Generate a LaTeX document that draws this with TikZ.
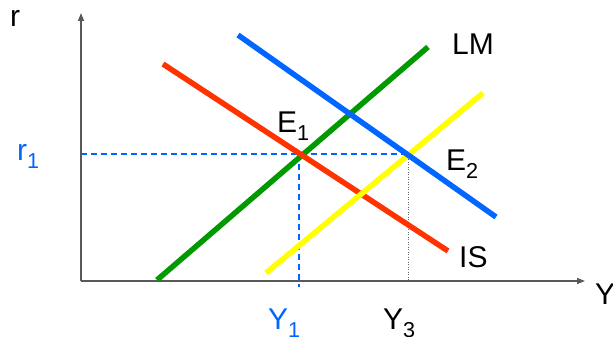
\documentclass[tikz,border=0pt]{standalone}
\usepackage{fontspec}
\setmainfont{Liberation Sans}
\usetikzlibrary{arrows.meta}
\definecolor{isred}{HTML}{FF3300}
\definecolor{lmgreen}{HTML}{009900}
\definecolor{curveblue}{HTML}{0066FF}
\definecolor{curveyellow}{HTML}{FFFF00}
\newcommand{\lowidx}[1]{\raisebox{-8pt}{\scalebox{0.72}{#1}}}
\tikzset{
  curve/.style={line width=5.5pt},
  lbl/.style={anchor=base west, inner sep=0pt, font=\fontsize{30}{36}\selectfont},
  guide/.style={curveblue, line width=1.5pt, dash pattern=on 6pt off 4pt},
}

\begin{document}
\begin{tikzpicture}[x=1pt, y=-1pt]
  \useasboundingbox (0,0) rectangle (613,337);
  % axes
  \coordinate (O) at (81,281);
  \draw[gray!70!black, line width=1.5pt, -{Triangle[length=8pt,width=6pt]}] (O) -- (81,13);
  \draw[gray!70!black, line width=1.5pt, -{Triangle[length=8pt,width=6pt]}] (O) -- (585,281);
  \node[lbl] (rlab) at (10,27) {r};
  \node[lbl] (ylab) at (595,304) {Y};
  % equilibria and guides
  \coordinate (E1) at (299,154);
  \coordinate (E2) at (408,154);
  \coordinate (Y1) at (299,287);
  \coordinate (Y3) at (408,281);
  \coordinate (R1) at (81,154);
  \draw[guide] (R1) -- (E2);
  \draw[guide] (E1) -- (Y1);
  \draw[gray!80!black, line width=0.7pt, dash pattern=on 1pt off 1.5pt] (E2) -- (Y3);
  % curves
  \draw[curve, lmgreen] (157,280) -- (428,47);
  \draw[curve, isred] (163,64) -- (448,251);
  \draw[curve, curveyellow] (266,273) -- (483,93);
  \draw[curve, curveblue] (238,35) -- (496,217);
  % labels
  \node[lbl] (lmlab) at (452,55) {LM};
  \node[lbl] (islab) at (459,267) {IS};
  \node[lbl] (e1lab) at (277,132) {E\lowidx{1}};
  \node[lbl] (e2lab) at (446,170) {E\lowidx{2}};
  \node[lbl, text=curveblue] (r1lab) at (17,160) {r\lowidx{1}};
  \node[lbl, text=curveblue] (y1lab) at (268,329) {Y\lowidx{1}};
  \node[lbl] (y3lab) at (383,329) {Y\lowidx{3}};
\end{tikzpicture}
\end{document}
